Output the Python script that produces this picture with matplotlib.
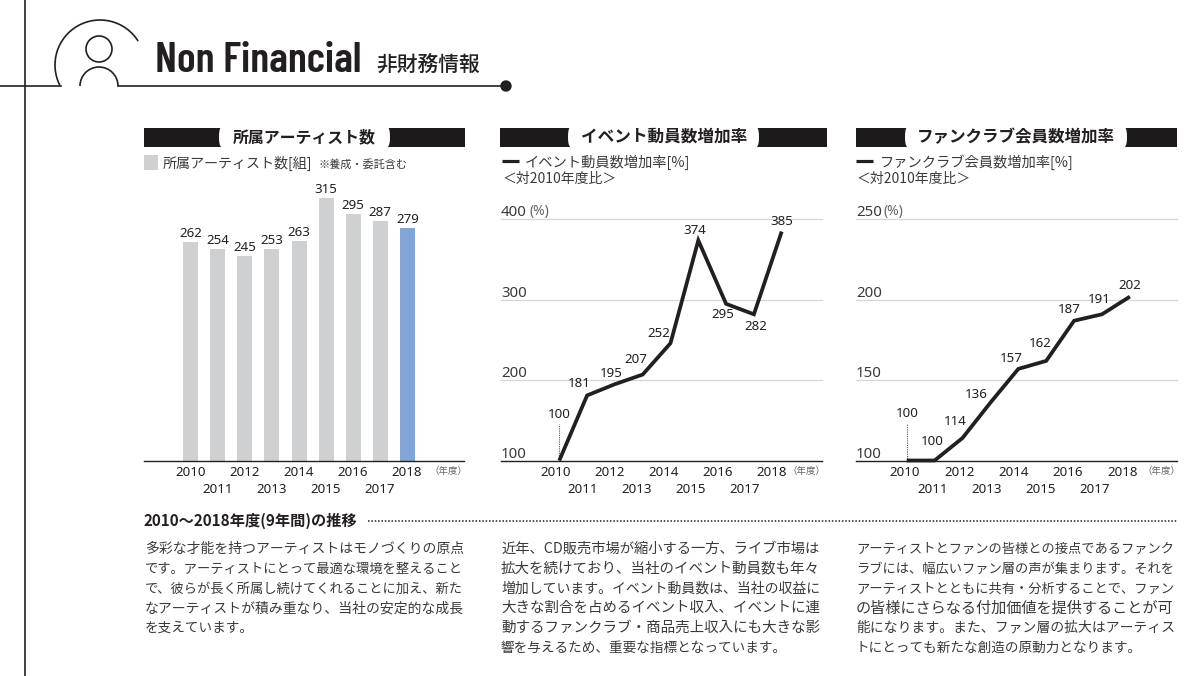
import matplotlib
matplotlib.use("Agg")
import matplotlib.pyplot as plt
from matplotlib.patches import Arc, Circle, Ellipse, Rectangle
from matplotlib.transforms import ScaledTranslation

plt.rcParams["font.family"] = ["Noto Sans CJK JP", "DejaVu Sans"]
DIGITS = ["Noto Sans", "Noto Sans CJK JP", "DejaVu Sans"]

DARK = "#231f20"
TEXT = "#3a3a3a"
GREY_BAR = "#cfd0d1"
BLUE_BAR = "#7fa6d6"
GRID = "#d6d6d6"

years = [2010, 2011, 2012, 2013, 2014, 2015, 2016, 2017, 2018]
artists = [262, 254, 245, 253, 263, 315, 295, 287, 279]
events = [100, 181, 195, 207, 252, 374, 295, 282, 385]
# the printed line sits lower than its 252 label in 2014
events_line = [100, 181, 195, 207, 246, 374, 295, 282, 385]
fanclub = [100, 100, 114, 136, 157, 162, 187, 191, 202]
event_ticks = [100, 200, 300, 400]
fanclub_ticks = [100, 150, 200, 250]

panel_titles = ["所属アーティスト数", "イベント動員数増加率", "ファンクラブ会員数増加率"]
section_title = "2010〜2018年度(9年間)の推移"
text_col1 = [
    "多彩な才能を持つアーティストはモノづくりの原点",
    "です。アーティストにとって最適な環境を整えること",
    "で、彼らが長く所属し続けてくれることに加え、新た",
    "なアーティストが積み重なり、当社の安定的な成長",
    "を支えています。",
]
text_col2 = [
    "近年、CD販売市場が縮小する一方、ライブ市場は",
    "拡大を続けており、当社のイベント動員数も年々",
    "増加しています。イベント動員数は、当社の収益に",
    "大きな割合を占めるイベント収入、イベントに連",
    "動するファンクラブ・商品売上収入にも大きな影",
    "響を与えるため、重要な指標となっています。",
]
text_col3 = [
    "アーティストとファンの皆様との接点であるファンク",
    "ラブには、幅広いファン層の声が集まります。それを",
    "アーティストとともに共有・分析することで、ファン",
    "の皆様にさらなる付加価値を提供することが可",
    "能になります。また、ファン層の拡大はアーティス",
    "トにとっても新たな創造の原動力となります。",
]

# label offsets from the line points, in pixels
event_offsets = [(0, 46), (-8, 12), (-4, 11), (-7, 15), (-12, 10), (-3, 10), (-3, -11), (2, -12), (0, 10)]
fanclub_offsets = [(1, 47), (-2, 19), (-7, 17), (-14, 8), (-7, 10), (-6, 17), (-5, 11), (-3, 15), (0, 11)]

W, H = 1200, 676
fig = plt.figure(figsize=(W / 100, H / 100), dpi=100, facecolor="white")
renderer = fig.canvas.get_renderer()

# page furniture is drawn in pixel coordinates
page = fig.add_axes([0, 0, 1, 1])
page.set_xlim(0, W)
page.set_ylim(H, 0)
page.axis("off")


def put(x, y, s, width=None, size=10, **kw):
    kw.setdefault("color", TEXT)
    kw.setdefault("va", "center")
    t = page.text(x, y, s, fontsize=size, **kw)
    if width:
        t.set_fontsize(size * width / t.get_window_extent(renderer).width)
    return t


def px_axes(x0, x1, top, bottom):
    return fig.add_axes([x0 / W, 1 - bottom / H, (x1 - x0) / W, (bottom - top) / H], facecolor="none")


def style_years(ax, first_dx, step_dx):
    ax.set_xticks(years, [str(y) for y in years])
    ax.tick_params(axis="x", length=0)
    for i, tick in enumerate(ax.xaxis.get_major_ticks()):
        tick.set_pad(4 if i % 2 == 0 else 16)
        tick.label1.set_fontsize(9.6)
        tick.label1.set_family(DIGITS)
        tick.label1.set_weight("medium")
        tick.label1.set_color(DARK)
        shift = ScaledTranslation((first_dx + step_dx * i) / 100, 0, fig.dpi_scale_trans)
        tick.label1.set_transform(tick.label1.get_transform() + shift)
    for side in ["top", "left", "right"]:
        ax.spines[side].set_visible(False)
    ax.spines["bottom"].set_color(DARK)
    ax.spines["bottom"].set_linewidth(1.0)


def draw_line_panel(x0, x1, x_first, step, line, labels, ticks, offsets, leader_top, first_dx, step_dx):
    ax = px_axes(x0, x1, 219.5, 460.5)
    ax.set_xlim(years[0] - (x_first - x0) / step, years[0] + (x1 - x_first) / step)
    ax.set_ylim(ticks[0], ticks[-1])
    ax.set_yticks(ticks, [str(t) for t in ticks])
    ax.tick_params(axis="y", length=0, pad=0)
    shift = ScaledTranslation(0, -1 / 100, fig.dpi_scale_trans)
    for tick in ax.yaxis.get_major_ticks():
        tick.label1.set_ha("left")
        tick.label1.set_va("bottom")
        tick.label1.set_fontsize(10.8)
        tick.label1.set_family(DIGITS)
        tick.label1.set_color(TEXT)
        tick.label1.set_transform(tick.label1.get_transform() + shift)
    for t in ticks[1:]:
        ax.axhline(t, color=GRID, lw=0.9, zorder=1, clip_on=False)
    ax.vlines(years[0], ticks[0], leader_top, color="#555555", lw=0.8, linestyles=(0, (1, 1)), zorder=2)
    ax.plot(years, line, color=DARK, lw=2.7, solid_joinstyle="miter", solid_capstyle="butt",
            zorder=3, clip_on=False)
    for year, y, v, off in zip(years, line, labels, offsets):
        ax.annotate(str(v), (year, y), xytext=off, textcoords="offset pixels", ha="center",
                    va="center", fontsize=9.6, color=DARK, zorder=4, family=DIGITS, weight="medium")
    style_years(ax, first_dx, step_dx)
    return ax


# header
page.plot([25, 25], [0, H], color=DARK, lw=1.2)
page.plot([0, 61], [85.5, 85.5], color=DARK, lw=1.2)
page.plot([118, 506], [85.5, 85.5], color=DARK, lw=1.2)
page.add_patch(Circle((506, 86), 5, color=DARK))
page.add_patch(Arc((100, 65), 90, 90, theta1=153, theta2=328, color=DARK, lw=1.2))
page.add_patch(Circle((99, 49), 13, fill=False, ec=DARK, lw=1.2))
page.add_patch(Arc((99, 86), 38, 38, theta1=180, theta2=360, color=DARK, lw=1.2))
put(155, 61, "Non Financial", width=206, size=34,
    family=["Barlow Condensed", "Liberation Sans Narrow", "DejaVu Sans"], weight=600, color=DARK)
put(376, 65, "非財務情報", width=104, size=15, color=DARK, weight="medium")

# panel title bars
for s, (bx0, bx1, gx0, gx1, tx0, tx1) in zip(panel_titles, [
    (144, 465, 221, 388, 233, 376),
    (500, 827, 570, 757, 581, 747),
    (856, 1177, 907, 1125, 917, 1115),
]):
    page.add_patch(Rectangle((bx0, 127.5), bx1 - bx0, 19, color="#1c1a1b", lw=0))
    page.add_patch(Rectangle((gx0, 127), gx1 - gx0, 20, color="white", lw=0))
    for ex in [gx0, gx1]:
        page.add_patch(Ellipse((ex, 137), 4, 19, color="white", lw=0))
    put(tx0, 137, s, width=tx1 - tx0, size=12, color=DARK, weight="bold")

# legends
page.add_patch(Rectangle((144, 155), 14, 15, color=GREY_BAR, lw=0))
put(163, 163, "所属アーティスト数[組]", width=150, size=10)
put(318, 164, "※養成・委託含む", width=89, size=7.5)
page.plot([502, 519], [161, 161], color=DARK, lw=2.3, solid_capstyle="butt")
put(525, 162, "イベント動員数増加率[%]", width=166, size=10)
put(503, 179, "＜対2010年度比＞", width=114, size=10)
page.plot([856, 873], [161, 161], color=DARK, lw=2.3, solid_capstyle="butt")
put(880, 162, "ファンクラブ会員数増加率[%]", width=194, size=10)
put(857, 179, "＜対2010年度比＞", width=114, size=10)

# bar panel
ax_bar = px_axes(144, 464, 197.7, 460.5)
bar_step = 27.08
ax_bar.set_xlim(years[0] - (190.7 - 144) / bar_step, years[0] + (464 - 190.7) / bar_step)
ax_bar.set_ylim(0, max(artists))
bar_colors = [GREY_BAR] * (len(years) - 1) + [BLUE_BAR]
bars = ax_bar.bar(years, artists, width=0.555, color=bar_colors, clip_on=False)
ax_bar.bar_label(bars, padding=1.5, fontsize=9.6, color=DARK, family=DIGITS, weight="medium")
ax_bar.set_yticks([])
style_years(ax_bar, -0.5, 0)

# line panels
draw_line_panel(501, 821.7, 559.3, 27.8, events_line, events, event_ticks, event_offsets, 145, -4, -0.75)
draw_line_panel(856, 1176.7, 906.7, 27.9, fanclub, fanclub, fanclub_ticks, fanclub_offsets, 123, -1.7, -0.75)

# unit notes
for x in [429, 787, 1142]:
    put(x, 471, "（年度）", width=38, size=7, color="#666666")
put(529, 211, "(%)", width=20, size=7, color="#666666", family=DIGITS)
put(884, 211, "(%)", width=20, size=7, color="#666666", family=DIGITS)

# text section
put(144, 521, section_title, width=214, size=10.5, color=DARK, weight="bold")
page.plot([368, 1177], [521, 521], color=DARK, lw=1.1, linestyle=(0, (1, 1.2)))

for lines, x, right in [(text_col1, 145, 464), (text_col2, 501, 821), (text_col3, 856, 1175)]:
    for i, line in enumerate(lines):
        full = i < len(lines) - 1
        put(x, 549 + 19.7 * i, line, width=(right - x) if full else None, size=9.8, color=TEXT)

fig.savefig("out.png", dpi=100)
